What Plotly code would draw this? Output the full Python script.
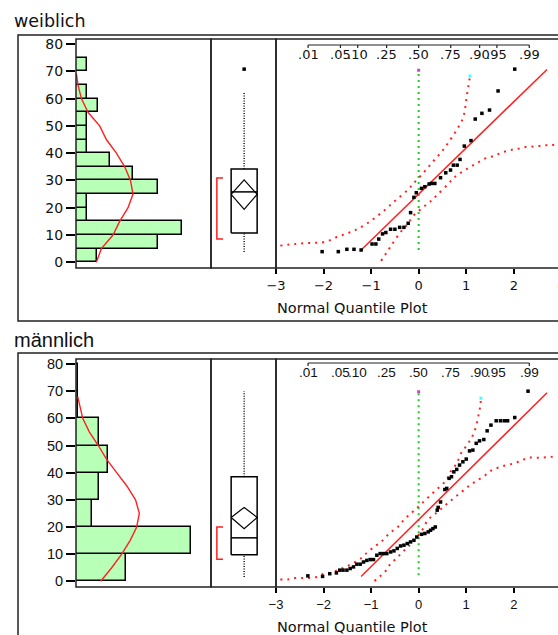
import plotly.graph_objects as go

# ---------------- data ----------------
Y_TICKS = [0, 10, 20, 30, 40, 50, 60, 70, 80]
X_TICKS = [-3, -2, -1, 0, 1, 2]
PROB_LABELS = [".01", ".05", ".10", ".25", ".50", ".75", ".90", ".95", ".99"]
PROB_Z = [-2.326, -1.645, -1.282, -0.674, 0.0, 0.674, 1.282, 1.645, 2.326]

# weiblich
W_BIN_LO = [0, 5, 10, 15, 20, 25, 30, 35, 40, 45, 50, 55, 60, 65, 70]
W_BIN_WIDTH = 5
W_COUNTS = [1.9, 7.45, 9.6, 1, 1, 7.45, 5.2, 3.1, 1, 1, 1, 2, 1, 0, 1]
W_CURVE_Y = [0, 5, 10, 15, 20, 25, 30, 35, 40, 45, 50, 55, 60, 65, 69]
W_CURVE_X = [1.85, 2.31, 3.36, 3.97, 4.73, 5.18, 4.95, 4.43, 3.67, 2.76, 2.15, 1.09, 0.49, 0.18, 0.04]
W_WHISKERS = [3.8, 62.4]
W_QUARTILES = [10.7, 25.8, 34.2]
W_OUTLIERS = [70.8]
W_DIAMOND = [19.4, 24.9, 30.2]
W_SHORTEST_HALF = [8.5, 30.9]
W_QX = [-2.03, -1.69, -1.51, -1.36, -1.21, -0.98, -0.90, -0.84, -0.76, -0.69, -0.59, -0.50,
        -0.40, -0.31, -0.22, -0.17, -0.10, -0.05, 0.06, 0.13, 0.22, 0.27, 0.34, 0.46, 0.57,
        0.67, 0.73, 0.81, 0.87, 0.96, 1.10, 1.19, 1.33, 1.49, 1.67, 2.02]
W_QY = [3.9, 3.9, 4.75, 4.75, 4.5, 6.7, 6.7, 8.5, 10.4, 10.9, 12.1, 12.1,
        12.8, 12.8, 14.3, 18.2, 23.8, 25.5, 27.1, 27.7, 28.7, 28.9, 28.9, 31.0, 32.8,
        33.8, 35.6, 35.6, 37.7, 42.6, 44.6, 52.5, 54.6, 55.8, 62.8, 70.8]
W_FIT_X = [-1.21, 2.70]
W_FIT_Y = [4.5, 70.7]
W_UB_X = [-2.91, -2.60, -2.29, -1.99, -1.68, -1.37, -1.07, -0.76, -0.49, -0.22, -0.12, 0.09,
          0.30, 0.50, 0.66, 0.81, 0.93, 0.98, 1.01, 1.05, 1.08]
W_UB_Y = [6.1, 6.7, 7.1, 7.4, 9.5, 11.5, 14.4, 18.5, 22.6, 26.7, 28.7, 32.6,
          36.9, 40.9, 44.8, 48.8, 52.8, 56.8, 60.9, 65.0, 68.3]
W_LB_X = [-0.79, -0.64, -0.56, -0.40, -0.22, -0.13, 0.13, 0.28, 0.39, 0.62, 0.73, 0.88, 1.07,
          1.22, 1.38, 1.54, 1.68, 1.85, 2.00, 2.14, 2.30, 2.46, 2.62, 2.77, 2.92]
W_LB_Y = [0.5, 4.5, 6.6, 10.6, 14.3, 16.7, 20.7, 22.8, 24.7, 28.7, 30.8, 32.8, 34.8,
          36.3, 37.9, 38.8, 39.7, 40.8, 41.4, 41.8, 42.4, 42.4, 42.9, 42.9, 43.3]
W_REF_Y = [4.5, 70.4]

# maennlich
M_BIN_LO = [0, 10, 20, 30, 40, 50, 60, 70]
M_BIN_WIDTH = 10
M_COUNTS = [6.1, 14.0, 1.95, 2.8, 3.9, 2.8, 0.3, 0.3]
M_CURVE_Y = [0, 5, 10, 15, 20, 25, 30, 35, 40, 45, 50, 55, 60, 65, 68]
M_CURVE_X = [3.01, 4.35, 5.57, 6.59, 7.40, 7.72, 7.26, 6.22, 4.96, 3.72, 2.72, 1.62, 0.82, 0.43, 0.21]
M_WHISKERS = [1.6, 70.0]
M_QUARTILES = [9.8, 16.0, 38.5]
M_OUTLIERS = []
M_DIAMOND = [19.4, 23.5, 27.2]
M_SHORTEST_HALF = [8.1, 20.0]
M_QX = [-2.33, -2.02, -1.87, -1.73, -1.66, -1.59, -1.51, -1.44, -1.37, -1.30, -1.23, -1.16,
        -1.09, -1.02, -0.95, -0.88, -0.81, -0.74, -0.67, -0.59, -0.52, -0.45, -0.38, -0.31,
        -0.24, -0.17, -0.10, -0.04, 0.06, 0.13, 0.20, 0.25, 0.30, 0.35, 0.39, 0.41, 0.46,
        0.55, 0.59, 0.64, 0.69, 0.74, 0.80, 0.86, 0.93, 1.00, 1.07, 1.14, 1.21, 1.28, 1.37,
        1.44, 1.52, 1.63, 1.72, 1.80, 1.87, 2.02, 2.30]
M_QY = [2.0, 1.8, 2.8, 3.1, 4.1, 4.1, 4.1, 4.7, 5.3, 6.3, 6.3, 7.1,
        7.7, 8.0, 8.0, 9.6, 10.2, 10.2, 10.2, 10.8, 11.2, 12.1, 13.0, 13.3,
        13.9, 14.5, 15.1, 16.3, 17.3, 17.6, 18.2, 18.8, 19.4, 20.0, 26.2, 27.2, 29.2,
        33.8, 34.2, 37.9, 38.5, 40.3, 41.2, 42.8, 44.0, 45.0, 48.0, 48.3, 50.8, 51.7, 52.2,
        55.4, 57.5, 59.1, 59.1, 59.1, 59.1, 60.3, 70.0]
M_FIT_X = [-1.21, 2.70]
M_FIT_Y = [1.8, 69.4]
M_UB_X = [-2.91, -2.75, -2.60, -2.45, -2.29, -2.14, -1.99, -1.83, -1.68, -1.53, -1.37, -1.22,
          -1.07, -0.91, -0.79, -0.67, -0.55, -0.40, -0.31, -0.18, -0.05, 0.08, 0.32, 0.57,
          0.69, 0.80, 0.89, 1.05, 1.17, 1.26, 1.30, 1.31]
M_UB_Y = [0.7, 0.7, 1.2, 1.2, 1.2, 1.6, 2.8, 3.2, 4.3, 5.3, 6.8, 8.4,
          10.8, 13.0, 14.5, 16.7, 18.5, 20.6, 22.7, 24.7, 26.8, 28.9, 32.9, 37.0,
          40.9, 43.4, 47.1, 51.0, 55.0, 61.2, 65.3, 67.4]
M_LB_X = [-0.93, -0.79, -0.67, -0.59, -0.47, -0.36, -0.25, -0.13, 0.06, 0.20, 0.34, 0.48,
          0.62, 0.76, 0.93, 1.08, 1.22, 1.38, 1.54, 1.68, 1.85, 2.00, 2.16, 2.30, 2.46,
          2.62, 2.77, 2.92]
M_LB_Y = [0.1, 2.2, 4.3, 6.5, 8.4, 10.4, 12.3, 14.3, 18.5, 22.7, 24.7, 26.8,
          28.9, 30.9, 33.3, 35.4, 37.0, 38.8, 40.9, 41.9, 42.8, 43.4, 44.4, 45.5, 45.5,
          45.6, 45.8, 46.1]
M_REF_Y = [2.2, 69.8]

# ---------------- layout helpers ----------------
W, H = 558, 635
def PX(x):
    return x / W
def PY(y):
    return 1 - y / H

TOP_FONT = "DejaVu Sans"
BOT_FONT = "Liberation Sans"
GREEN_FILL = "#b8ffb8"
RED = "#ff2020"

fig = go.Figure()
shapes = []
annotations = []


def panel(idx, ytop, ybot, counts, bin_lo, bin_w, cx, cy, hist_max,
          whisk, quart, outl, diamond, shorth,
          qx, qy, fitx, fity, ubx, uby, lbx, lby, refy, font, prob_ticks_all, prob_size, ytick_size):
    xa = ["x", "x2", "x3"] if idx == 0 else ["x4", "x5", "x6"]
    ya = ["y", "y2", "y3"] if idx == 0 else ["y4", "y5", "y6"]
    # histogram
    centers = [b + bin_w / 2 for b in bin_lo]
    fig.add_trace(go.Bar(x=counts, y=centers, orientation="h", width=bin_w,
                         marker=dict(color=GREEN_FILL, line=dict(color="black", width=1.5)),
                         xaxis=xa[0], yaxis=ya[0], hoverinfo="skip"))
    fig.add_trace(go.Scatter(x=cx, y=cy, mode="lines", line=dict(color=RED, width=1.4),
                             xaxis=xa[0], yaxis=ya[0]))
    # box plot (x positions are layout constants within [0,1])
    L, R, C = 0.31, 0.71, 0.51
    q1, med, q3 = quart
    box_kw = dict(xaxis=xa[1], yaxis=ya[1], mode="lines", hoverinfo="skip")
    fig.add_trace(go.Scatter(x=[C, C], y=[q3, whisk[1]], line=dict(color="black", width=1.4, dash="1px,1.5px"), **box_kw))
    fig.add_trace(go.Scatter(x=[C, C], y=[whisk[0], q1], line=dict(color="black", width=1.4, dash="1px,1.5px"), **box_kw))
    fig.add_trace(go.Scatter(x=[L, R, R, L, L], y=[q1, q1, q3, q3, q1], line=dict(color="black", width=1.5), **box_kw))
    fig.add_trace(go.Scatter(x=[L, R], y=[med, med], line=dict(color="black", width=1.5), **box_kw))
    fig.add_trace(go.Scatter(x=[L, C, R, C, L], y=[diamond[1], diamond[2], diamond[1], diamond[0], diamond[1]],
                             line=dict(color="black", width=1.2), **box_kw))
    fig.add_trace(go.Scatter(x=[0.185, 0.09, 0.09, 0.185], y=[shorth[0], shorth[0], shorth[1], shorth[1]],
                             line=dict(color=RED, width=1.5), **box_kw))
    if outl:
        fig.add_trace(go.Scatter(x=[C] * len(outl), y=outl, mode="markers",
                                 marker=dict(symbol="square", size=3.5, color="black"),
                                 xaxis=xa[1], yaxis=ya[1]))
    # quantile plot
    q_kw = dict(xaxis=xa[2], yaxis=ya[2], hoverinfo="skip")
    fig.add_trace(go.Scatter(x=[0, 0], y=refy, mode="lines",
                             line=dict(color="#22cc22", width=2, dash="2px,4px"), **q_kw))
    fig.add_trace(go.Scatter(x=[0], y=[refy[1]], mode="markers",
                             marker=dict(symbol="square", size=3, color="#cc44cc"), **q_kw))
    fig.add_trace(go.Scatter(x=ubx, y=uby, mode="lines",
                             line=dict(color=RED, width=2, dash="2px,5px", shape="spline"), **q_kw))
    fig.add_trace(go.Scatter(x=[ubx[-1]], y=[uby[-1]], mode="markers",
                             marker=dict(symbol="square", size=3, color="#44ffff"), **q_kw))
    fig.add_trace(go.Scatter(x=lbx, y=lby, mode="lines",
                             line=dict(color=RED, width=2, dash="2px,5px", shape="spline"), **q_kw))
    fig.add_trace(go.Scatter(x=fitx, y=fity, mode="lines", line=dict(color=RED, width=1.5), **q_kw))
    fig.add_trace(go.Scatter(x=qx, y=qy, mode="markers",
                             marker=dict(symbol="square", size=3.5, color="black"), **q_kw))

    # axes
    yr = [-2.1, 81.85]
    ydom = [PY(ybot), PY(ytop)]
    sfx = "" if idx == 0 else "4"
    ax = dict(showgrid=False, zeroline=False, fixedrange=True, automargin=False)
    fig.layout["xaxis" + sfx] = dict(domain=[PX(76), PX(211)], range=[0, hist_max], visible=False,
                                     anchor="y" + sfx, **ax)
    fig.layout["yaxis" + sfx] = dict(domain=ydom, range=yr, anchor="x" + sfx, tickvals=Y_TICKS,
                                     ticks="outside", ticklen=9, tickwidth=1.5, tickcolor="black",
                                     showline=False, tickfont=dict(family=font, size=ytick_size, color="#111"),
                                     **ax)
    s2 = "2" if idx == 0 else "5"
    fig.layout["xaxis" + s2] = dict(domain=[PX(211), PX(276)], range=[0, 1], visible=False,
                                    anchor="y" + s2, **ax)
    fig.layout["yaxis" + s2] = dict(domain=ydom, range=yr, visible=False, anchor="x" + s2, **ax)
    s3 = "3" if idx == 0 else "6"
    fig.layout["xaxis" + s3] = dict(domain=[PX(276), 1.0], range=[-3, 2.93], anchor="y" + s3,
                                    tickvals=X_TICKS, ticks="outside", ticklen=5, tickwidth=1.5,
                                    tickcolor="black", showline=False,
                                    tickfont=dict(family=font, size=13, color="#111"), **ax)
    fig.layout["yaxis" + s3] = dict(domain=ydom, range=yr, visible=False, anchor="x" + s3, **ax)

    # frames
    for (x0, x1) in [(76, 211), (211, 276), (276, 600)]:
        shapes.append(dict(type="rect", xref="paper", yref="paper", x0=PX(x0), x1=PX(x1),
                           y0=PY(ybot), y1=PY(ytop), line=dict(color="#222", width=1.5), layer="above"))
    # probability axis at top of quantile plot
    yline = ytop + 6 if idx == 0 else ytop + 4
    shapes.append(dict(type="line", xref=xa[2], yref="paper", x0=PROB_Z[0], x1=PROB_Z[-1],
                       y0=PY(yline), y1=PY(yline), line=dict(color="#222", width=1.2)))
    tick_z = PROB_Z if prob_ticks_all else [PROB_Z[0], PROB_Z[-1]]
    for z in tick_z:
        shapes.append(dict(type="line", xref=xa[2], yref="paper", x0=z, x1=z,
                           y0=PY(yline), y1=PY(yline + 3), line=dict(color="#222", width=1.2)))
    for lab, z in zip(PROB_LABELS, PROB_Z):
        annotations.append(dict(text=lab, x=z, y=PY(yline + 9.5), xref=xa[2], yref="paper",
                                showarrow=False, xanchor="center", yanchor="middle",
                                font=dict(family=font, size=prob_size, color="#111")))
    annotations.append(dict(text="Normal Quantile Plot", x=PX(275), y=PY(ybot + 40), xref="paper",
                            yref="paper", showarrow=False, xanchor="left", yanchor="middle",
                            font=dict(family="DejaVu Sans", size=14.5, color="#111")))
    annotations.append(dict(text="3", x=PX(561), y=PY(ybot + 14), xref="paper", yref="paper",
                            showarrow=False, xanchor="center", yanchor="middle",
                            font=dict(family=font, size=13, color="#111")))


panel(0, 39, 268, W_COUNTS, W_BIN_LO, W_BIN_WIDTH, W_CURVE_X, W_CURVE_Y, 12.27,
      W_WHISKERS, W_QUARTILES, W_OUTLIERS, W_DIAMOND, W_SHORTEST_HALF,
      W_QX, W_QY, W_FIT_X, W_FIT_Y, W_UB_X, W_UB_Y, W_LB_X, W_LB_Y, W_REF_Y, TOP_FONT, True, 13, 14)
panel(1, 359, 587, M_COUNTS, M_BIN_LO, M_BIN_WIDTH, M_CURVE_X, M_CURVE_Y, 16.46,
      M_WHISKERS, M_QUARTILES, M_OUTLIERS, M_DIAMOND, M_SHORTEST_HALF,
      M_QX, M_QY, M_FIT_X, M_FIT_Y, M_UB_X, M_UB_Y, M_LB_X, M_LB_Y, M_REF_Y, BOT_FONT, False, 13.5, 14.5)

# outer frames
shapes.append(dict(type="rect", xref="paper", yref="paper", x0=PX(18), x1=PX(600),
                   y0=PY(321), y1=PY(35), line=dict(color="#222", width=1.5), layer="above"))
shapes.append(dict(type="rect", xref="paper", yref="paper", x0=PX(18), x1=PX(600),
                   y0=PY(660), y1=PY(353), line=dict(color="#222", width=1.5), layer="above"))

annotations.append(dict(text="weiblich", x=PX(12), y=PY(21), xref="paper", yref="paper",
                        showarrow=False, xanchor="left", yanchor="middle",
                        font=dict(family="DejaVu Sans", size=17.5, color="#111")))
annotations.append(dict(text="männlich", x=PX(12), y=PY(340), xref="paper", yref="paper",
                        showarrow=False, xanchor="left", yanchor="middle",
                        font=dict(family="Liberation Sans", size=20, color="#111")))

fig.update_layout(width=W, height=H, margin=dict(l=0, r=0, t=0, b=0, autoexpand=False),
                  paper_bgcolor="white", plot_bgcolor="white", showlegend=False,
                  bargap=0, shapes=shapes, annotations=annotations)

fig.write_html("out.html")
